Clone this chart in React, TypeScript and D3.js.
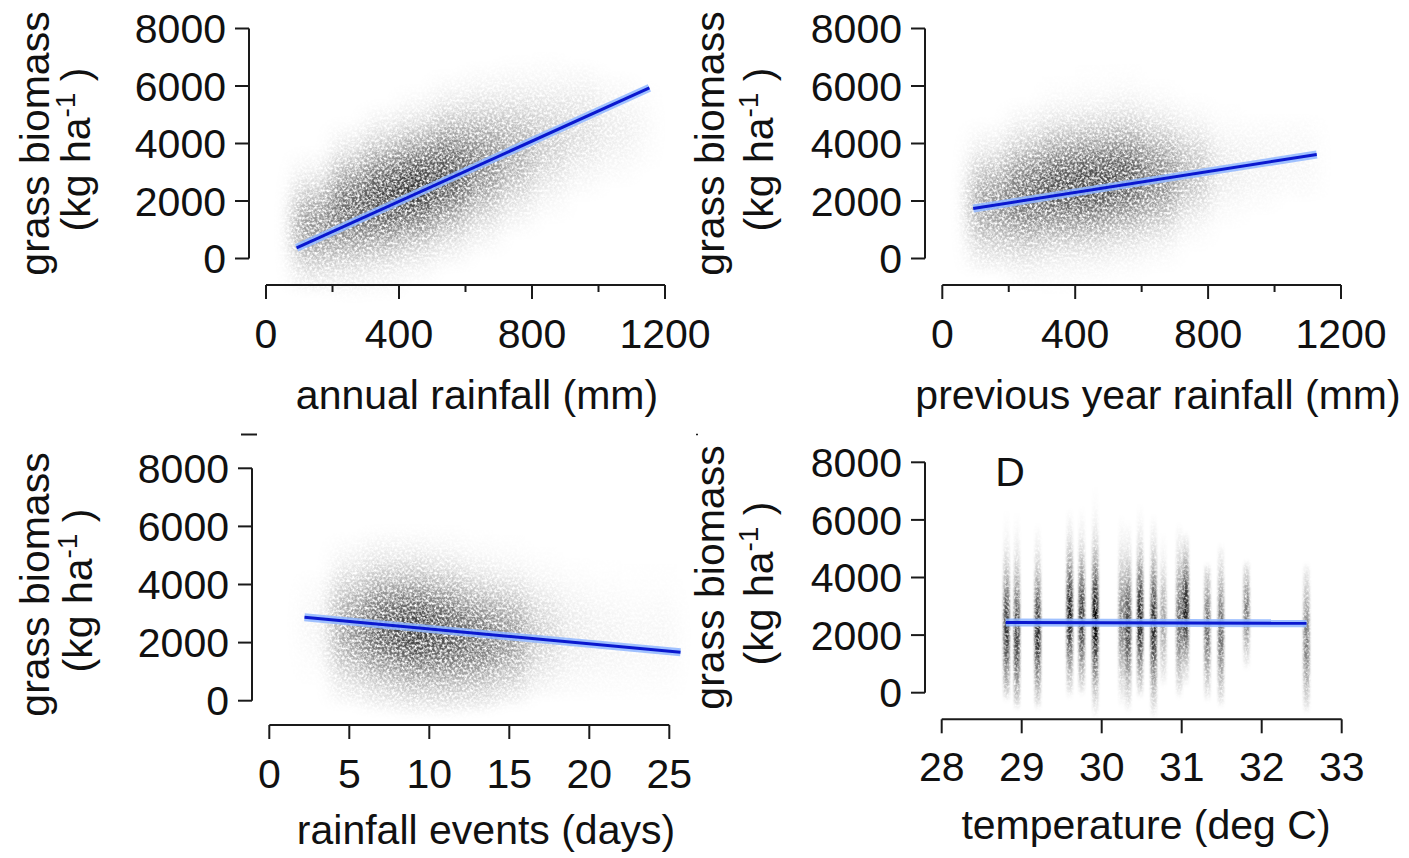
import React from 'react';
import * as d3 from 'd3';

const W = 1409;
const H = 858;
const FONT = '"Liberation Sans", Arial, Helvetica, sans-serif';
const FS = 41;

// ---- tick values ----
const biomassTicks = [0, 2000, 4000, 6000, 8000];
const rainfallMajorTicks = [0, 400, 800, 1200];
const rainfallMinorTicks = [200, 600, 1000];
const eventTicks = [0, 5, 10, 15, 20, 25];
const temperatureTicks = [28, 29, 30, 31, 32, 33];

// ---- fitted regression lines: [x, biomass] at both ends ----
const fitAnnual = [[92, 370], [1153, 5935]];
const fitPrevious = [[93, 1740], [1127, 3617]];
const fitEvents = [[2.2, 2870], [25.7, 1665]];
const fitTemperature = [[28.8, 2440], [32.56, 2410]];

// ---- point clouds, summarised per x-bin ----
// [xFrom, xTo, centre, spread, peakDensity, lowest, highest]
const cloudAnnual = [
  [85, 200, 1100, 1000, 0.42, -1300, 3900],
  [200, 300, 1700, 1150, 0.6, -1500, 4900],
  [300, 400, 2100, 1200, 0.72, -1500, 5500],
  [400, 500, 2450, 1200, 0.78, -1000, 6100],
  [500, 600, 2900, 1250, 0.68, -500, 6600],
  [600, 700, 3300, 1250, 0.48, 0, 6900],
  [700, 800, 3700, 1200, 0.33, 700, 7100],
  [800, 900, 4100, 1150, 0.2, 1200, 7200],
  [900, 1000, 4500, 1100, 0.13, 2000, 6900],
  [1000, 1100, 4500, 1000, 0.07, 2500, 6500],
  [1100, 1160, 4600, 900, 0.035, 3000, 6200],
];
const cloudPrevious = [
  [85, 200, 1900, 1100, 0.4, -600, 4900],
  [200, 300, 2200, 1200, 0.58, -1100, 5600],
  [300, 400, 2500, 1200, 0.68, -1300, 6500],
  [400, 500, 2600, 1200, 0.72, -1100, 7200],
  [500, 600, 2800, 1200, 0.66, -800, 7000],
  [600, 700, 2800, 1150, 0.48, -500, 6300],
  [700, 800, 3000, 1000, 0.26, 200, 5800],
  [800, 900, 3100, 900, 0.08, 1000, 5500],
  [900, 1000, 3300, 900, 0.05, 1500, 5000],
  [1000, 1130, 3400, 900, 0.035, 2000, 5000],
];
const cloudEvents = [
  [2, 4, 2600, 1000, 0.04, 500, 4500],
  [4, 6, 2500, 1200, 0.4, -300, 5800],
  [6, 8, 2500, 1250, 0.64, -500, 6050],
  [8, 10, 2400, 1250, 0.76, -600, 6050],
  [10, 12, 2300, 1250, 0.68, -600, 6050],
  [12, 14, 2150, 1200, 0.56, -500, 6000],
  [14, 16, 2200, 1150, 0.42, -300, 5800],
  [16, 18, 2300, 1100, 0.18, 0, 5400],
  [18, 20, 2300, 1100, 0.08, 0, 5000],
  [20, 22, 2200, 1100, 0.05, 0, 5000],
  [22, 25.5, 2100, 1100, 0.035, 0, 5000],
];
// temperature strips: [temperature, centre, spread, peakDensity, lowest, highest]
const stripsTemperature = [
  [28.81, 2200, 1300, 0.8, -300, 6400],
  [28.94, 2000, 1400, 0.75, -600, 6300],
  [29.2, 2100, 1300, 0.85, -600, 5900],
  [29.6, 2700, 1300, 0.9, -200, 6400],
  [29.75, 2600, 1300, 0.8, -100, 6500],
  [29.92, 2500, 1400, 1.0, -900, 7300],
  [30.25, 2500, 1300, 0.5, -500, 6200],
  [30.33, 2300, 1300, 0.75, -700, 6000],
  [30.48, 2600, 1300, 0.9, -200, 6600],
  [30.65, 2300, 1400, 0.85, -900, 6200],
  [30.77, 2500, 1100, 0.36, 200, 5600],
  [30.97, 2500, 1300, 0.58, -200, 5900],
  [31.05, 2900, 1100, 0.9, 200, 5600],
  [31.32, 2200, 1200, 0.58, -300, 4500],
  [31.49, 2100, 1300, 0.58, -500, 5200],
  [31.81, 2800, 900, 0.52, 800, 4600],
  [32.56, 1800, 1300, 0.52, -700, 4500],
];

const yLabelMain = 'grass biomass';

function gradStops(centre: number, spread: number, peak: number, lo: number, hi: number) {
  const n = 28;
  const out: { offset: number; opacity: number }[] = [];
  for (let i = 0; i <= n; i++) {
    const t = i / n;
    const v = hi + (lo - hi) * t;
    const z = (v - centre) / spread;
    let op = peak * Math.exp(-0.5 * z * z);
    const edge = Math.min(t, 1 - t);
    if (edge < 0.05) op *= edge / 0.05;
    out.push({ offset: t, opacity: Math.max(0, Math.min(1, op)) });
  }
  return out;
}

type PanelCfg = {
  id: string;
  xDomain: [number, number];
  xRange: [number, number];
  yRange: [number, number];
  yAxisX: number;
  xAxisY: number;
  majorTicks: number[];
  minorTicks: number[];
  tickLabelY: number;
  xLabel: string;
  xLabelPos: [number, number];
  yLabelX: [number, number];
  fit: number[][];
  cloud?: number[][];
  strips?: number[][];
  letter?: string;
};

const panels: PanelCfg[] = [
  {
    id: 'a', xDomain: [0, 1200], xRange: [266, 665], yRange: [258.5, 28.5],
    yAxisX: 249, xAxisY: 285, majorTicks: rainfallMajorTicks, minorTicks: rainfallMinorTicks,
    tickLabelY: 333, xLabel: 'annual rainfall (mm)', xLabelPos: [477, 409], yLabelX: [49, 90],
    fit: fitAnnual, cloud: cloudAnnual,
  },
  {
    id: 'b', xDomain: [0, 1200], xRange: [942.3, 1341], yRange: [258.5, 28.5],
    yAxisX: 925, xAxisY: 285, majorTicks: rainfallMajorTicks, minorTicks: rainfallMinorTicks,
    tickLabelY: 333, xLabel: 'previous year rainfall (mm)', xLabelPos: [1158, 409], yLabelX: [724, 773],
    fit: fitPrevious, cloud: cloudPrevious,
  },
  {
    id: 'c', xDomain: [0, 25], xRange: [269.3, 669.3], yRange: [700.7, 468.3],
    yAxisX: 252, xAxisY: 725, majorTicks: eventTicks, minorTicks: [],
    tickLabelY: 773, xLabel: 'rainfall events (days)', xLabelPos: [486, 844], yLabelX: [49, 92],
    fit: fitEvents, cloud: cloudEvents,
  },
  {
    id: 'd', xDomain: [28, 33], xRange: [941.7, 1341.7], yRange: [692.7, 462.3],
    yAxisX: 925, xAxisY: 719.3, majorTicks: temperatureTicks, minorTicks: [],
    tickLabelY: 766.7, xLabel: 'temperature (deg C)', xLabelPos: [1146, 839], yLabelX: [724, 773],
    fit: fitTemperature, strips: stripsTemperature, letter: 'D',
  },
];

const AXIS = '#1a1a1a';

function Panel({ p }: { p: PanelCfg }) {
  const xs = d3.scaleLinear().domain(p.xDomain).range(p.xRange);
  const ys = d3.scaleLinear().domain([0, 8000]).range(p.yRange);
  const lineGen = d3.line<number[]>().x((d) => xs(d[0])).y((d) => ys(d[1]));
  const midY = (p.yRange[0] + p.yRange[1]) / 2;
  const tickLen = 14;
  return (
    <g>
      <defs>
        {(p.cloud || []).map((c, i) => {
          const [, , centre, spread, peak, lo, hi] = c;
          return (
            <linearGradient key={i} id={`g-${p.id}-${i}`} x1="0" y1="0" x2="0" y2="1">
              {gradStops(centre, spread, peak, lo, hi).map((s, k) => (
                <stop key={k} offset={s.offset} stopColor="#000" stopOpacity={s.opacity} />
              ))}
            </linearGradient>
          );
        })}
        {(p.strips || []).map((c, i) => {
          const [, centre, spread, peak, lo, hi] = c;
          return (
            <linearGradient key={i} id={`g-${p.id}-${i}`} x1="0" y1="0" x2="0" y2="1">
              {gradStops(centre, spread, peak, lo, hi).map((s, k) => (
                <stop key={k} offset={s.offset} stopColor="#000" stopOpacity={s.opacity} />
              ))}
            </linearGradient>
          );
        })}
      </defs>
      <g filter={p.strips ? 'url(#grainStrip)' : 'url(#grainCloud)'}>
        {p.cloud &&
          p.cloud.map((c, i) => {
            const [x0, x1, , , , lo, hi] = c;
            return (
              <rect key={i} x={xs(x0)} width={xs(x1) - xs(x0)} y={ys(hi)} height={ys(lo) - ys(hi)}
                fill={`url(#g-${p.id}-${i})`} />
            );
          })}
        {p.strips &&
          p.strips.map((s, i) => {
            const [t, , , , lo, hi] = s;
            return (
              <rect key={i} x={xs(t) - 3} width={6} y={ys(hi)} height={ys(lo) - ys(hi)}
                fill={`url(#g-${p.id}-${i})`} />
            );
          })}
      </g>

      {/* regression line with confidence band */}
      <path d={lineGen(p.fit) || ''} stroke="#8fb6ff" strokeOpacity={0.85} strokeWidth={8} fill="none" />
      <path d={lineGen(p.fit) || ''} stroke="#0a18cf" strokeWidth={3} fill="none" />

      {/* y axis */}
      <line x1={p.yAxisX} x2={p.yAxisX} y1={ys(0)} y2={ys(8000)} stroke={AXIS} strokeWidth={2} />
      {biomassTicks.map((t) => (
        <g key={t}>
          <line x1={p.yAxisX - tickLen} x2={p.yAxisX} y1={ys(t)} y2={ys(t)} stroke={AXIS} strokeWidth={2} />
          <text x={p.yAxisX - 23} y={ys(t)} dy="0.36em"
            textAnchor="end" fontSize={FS} fontFamily={FONT} fill="#111">{t}</text>
        </g>
      ))}

      {/* x axis */}
      <line x1={p.xRange[0]} x2={p.xRange[1]} y1={p.xAxisY} y2={p.xAxisY} stroke={AXIS} strokeWidth={2} />
      {p.majorTicks.map((t) => (
        <g key={t}>
          <line x1={xs(t)} x2={xs(t)} y1={p.xAxisY} y2={p.xAxisY + tickLen} stroke={AXIS} strokeWidth={2} />
          <text x={xs(t)} y={p.tickLabelY} dy="0.36em"
            textAnchor="middle" fontSize={FS} fontFamily={FONT} fill="#111">{t}</text>
        </g>
      ))}
      {p.minorTicks.map((t) => (
        <line key={t} x1={xs(t)} x2={xs(t)} y1={p.xAxisY} y2={p.xAxisY + 7} stroke={AXIS} strokeWidth={2} />
      ))}

      {/* axis titles */}
      <text x={p.xLabelPos[0]} y={p.xLabelPos[1]} textAnchor="middle"
        fontSize={FS} fontFamily={FONT} fill="#111">{p.xLabel}</text>
      <text transform={`translate(${p.yLabelX[0]},${midY}) rotate(-90)`} textAnchor="middle"
        fontSize={FS} fontFamily={FONT} fill="#111">{yLabelMain}</text>
      <text transform={`translate(${p.yLabelX[1]},${midY + 6}) rotate(-90)`} textAnchor="middle"
        fontSize={FS} fontFamily={FONT} fill="#111">
        (kg ha<tspan fontSize={28} dy={-15}>-1</tspan><tspan dy={15}> )</tspan>
      </text>
      {p.letter && (
        <text x={1010} y={486} textAnchor="middle" fontSize={FS}
          fontFamily={FONT} fill="#111">{p.letter}</text>
      )}
    </g>
  );
}

export default function App() {
  return (
    <svg width={W} height={H} viewBox={`0 0 ${W} ${H}`}
      style={{ position: 'absolute', left: 0, top: 0, background: '#fff', display: 'block' }}>
      <defs>
        <filter id="grainCloud" filterUnits="userSpaceOnUse" x="0" y="0" width={W} height={H}>
          <feGaussianBlur in="SourceGraphic" stdDeviation="9 3" result="b" />
          <feTurbulence type="fractalNoise" baseFrequency="0.4" numOctaves="2" seed="7" result="n" />
          <feColorMatrix in="n" type="matrix"
            values="0 0 0 0 0  0 0 0 0 0  0 0 0 0 0  2.5 0 0 0 -0.6" result="m" />
          <feComposite in="b" in2="m" operator="in" />
        </filter>
        <filter id="grainStrip" filterUnits="userSpaceOnUse" x="0" y="0" width={W} height={H}>
          <feGaussianBlur in="SourceGraphic" stdDeviation="1.2 2" result="b" />
          <feTurbulence type="fractalNoise" baseFrequency="0.42" numOctaves="2" seed="3" result="n" />
          <feColorMatrix in="n" type="matrix"
            values="0 0 0 0 0  0 0 0 0 0  0 0 0 0 0  2.0 0 0 0 -0.2" result="m" />
          <feComposite in="b" in2="m" operator="in" />
        </filter>
      </defs>
      <rect x={0} y={0} width={W} height={H} fill="#fff" />
      {panels.map((p) => (
        <Panel key={p.id} p={p} />
      ))}
      <line x1={241} x2={257} y1={434.5} y2={434.5} stroke={AXIS} strokeWidth={2} />
      <line x1={696} x2={698} y1={434.5} y2={434.5} stroke={AXIS} strokeWidth={1.5} />
    </svg>
  );
}
